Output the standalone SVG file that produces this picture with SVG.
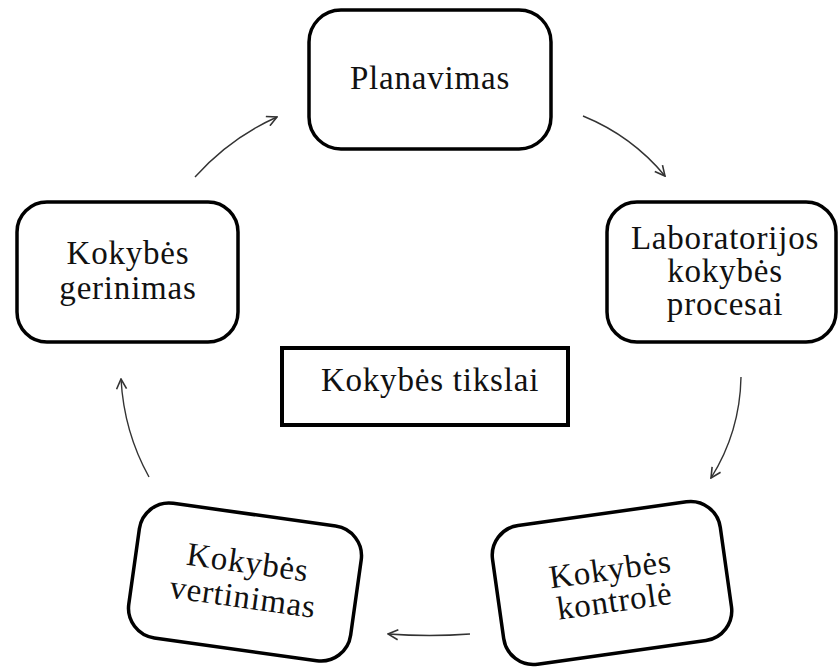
<svg xmlns="http://www.w3.org/2000/svg" width="838" height="668" viewBox="0 0 838 668">
<style>
.box{fill:#fff;stroke:#000;stroke-width:3.5}
.t{font-family:"Liberation Serif","Times New Roman",serif;font-size:33px;fill:#111;text-anchor:middle;letter-spacing:0.8px}
.c{fill:none;stroke:#333;stroke-width:1.4}
</style>
<defs>
<marker id="ah" viewBox="0 0 12 12" refX="11" refY="6" markerWidth="12" markerHeight="12" markerUnits="userSpaceOnUse" orient="auto">
<path d="M1,1 L11,6 L1,11" fill="none" stroke="#333" stroke-width="1.6"/>
</marker>
</defs>
<rect width="838" height="668" fill="#fff"/>
<g id="planavimas">
<rect class="box" x="309" y="10" width="242" height="139" rx="32"/>
<text class="t" x="430" y="89">Planavimas</text>
</g>
<g id="laboratorijos">
<rect class="box" x="607" y="202" width="229" height="140" rx="30"/>
<text class="t" x="725" y="249">Laboratorijos</text>
<text class="t" x="725" y="282">kokybės</text>
<text class="t" x="725" y="315">procesai</text>
</g>
<g id="kontrole" transform="rotate(-8 612 583)">
<rect class="box" x="497" y="513" width="230" height="140" rx="30"/>
<text class="t" x="612" y="580">Kokybės</text>
<text class="t" x="612" y="612">kontrolė</text>
</g>
<g id="vertinimas" transform="rotate(8 245 582)">
<rect class="box" x="133" y="514" width="224" height="136" rx="30"/>
<text class="t" x="245" y="573">Kokybės</text>
<text class="t" x="245" y="608">vertinimas</text>
</g>
<g id="gerinimas">
<rect class="box" x="17" y="202" width="221" height="140" rx="30"/>
<text class="t" x="128" y="264">Kokybės</text>
<text class="t" x="128" y="299">gerinimas</text>
</g>
<g id="tikslai">
<rect x="282" y="348" width="286" height="77" fill="#fff" stroke="#000" stroke-width="4"/>
<text class="t" x="430" y="391">Kokybės tikslai</text>
</g>
<g id="connectors">
<path class="c" d="M195,177 Q230,138 277,117" marker-end="url(#ah)"/>
<path class="c" d="M583,116 Q632,136 665,176" marker-end="url(#ah)"/>
<path class="c" d="M741,377 Q740,432 711,478" marker-end="url(#ah)"/>
<path class="c" d="M470,634 Q430,637 388,634" marker-end="url(#ah)"/>
<path class="c" d="M149,477 Q124,432 121,379" marker-end="url(#ah)"/>
</g>
</svg>
